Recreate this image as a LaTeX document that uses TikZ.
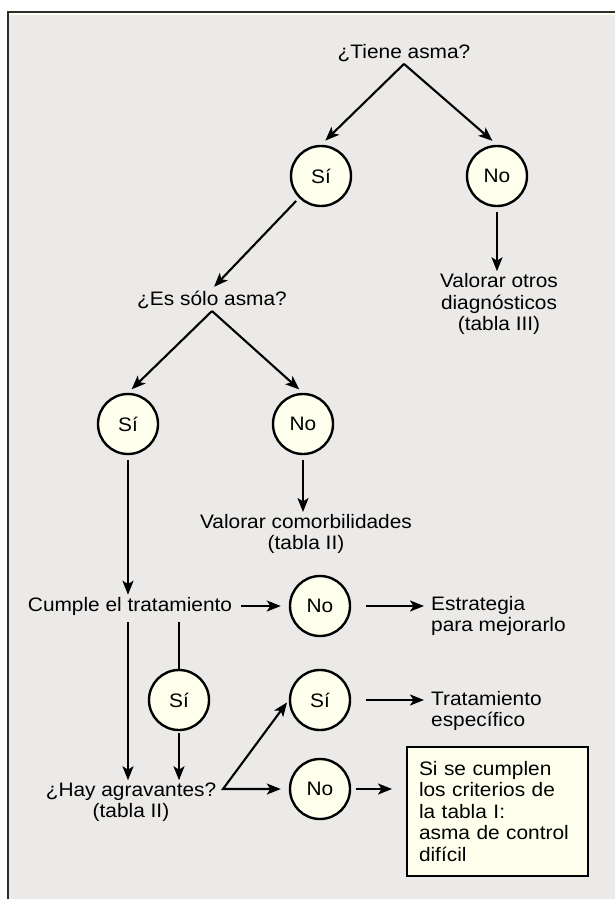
\documentclass[tikz,border=0pt]{standalone}
\usepackage{fontspec}
\setmainfont{Liberation Sans}[FakeStretch=1.07]
\usepackage{tikz}
\usetikzlibrary{arrows.meta}

\begin{document}
\begin{tikzpicture}[x=1pt, y=-1pt,
        every node/.style={font=\fontsize{19.5}{21.5}\selectfont, inner sep=2pt},
        rep/.style={circle, draw, line width=2.4pt, fill=colRep, minimum size=60pt, inner sep=0pt},
        fl/.style={line width=2.1pt, -{Stealth[length=14pt, width=11pt, inset=3.5pt]}},
        trait/.style={line width=2.1pt}]

        % Définition des couleurs
        \definecolor{colFond}{RGB}{235, 234, 232}
        \definecolor{colRep}{RGB}{255, 255, 238}
        \definecolor{colCadre}{RGB}{45, 45, 45}

        % Cadre
        \useasboundingbox (0,0) rectangle (615,899);
        \fill[colFond] (8,12) rectangle (615,899);
        \draw[colRep, line width=2pt] (9,14.5) -- (615,14.5);
        \draw[colCadre, line width=2.2pt] (8,899) -- (8,12) -- (615,12);

        % Questions et réponses
        \node (tiene) at (404,53) {¿Tiene asma?};
        \node[rep] (si1) at (321,176) {Sí};
        \node[rep] (no1) at (497,176) {No};
        \node[align=center] (otros) at (499,304) {Valorar otros\\diagnósticos\\(tabla III)};
        \node (solo) at (212,300) {¿Es sólo asma?};
        \node[rep] (si2) at (128,424) {Sí};
        \node[rep] (no2) at (303,424) {No};
        \node[align=center] (comor) at (306,534) {Valorar comorbilidades\\(tabla II)};
        \node (cumple) at (130,606) {Cumple el tratamiento};
        \node[rep] (no3) at (320,606) {No};
        \node[align=left, anchor=west] (estr) at (429,616) {Estrategia\\para mejorarlo};
        \node[rep] (si4) at (179,700) {Sí};
        \node[rep] (si5) at (320,700) {Sí};
        \node[align=left, anchor=west] (trat) at (429,711) {Tratamiento\\específico};
        \node[align=center] (agrav) at (131,802) {¿Hay agravantes?\\(tabla II)};
        \node[rep] (no5) at (320,789) {No};
        \node[draw, line width=2pt, fill=colRep, anchor=north west, minimum height=129pt,
              text width=157pt, inner xsep=12pt, align=left] (crit) at (406,746)
              {Si se cumplen\\los criterios de\\la tabla I:\\asma de control\\difícil};

        % Flèches
        \draw[fl, shorten >=6pt] (tiene.south) -- (si1.north);
        \draw[fl, shorten >=6pt] (tiene.south) -- (no1.north);
        \draw[fl, shorten <=5pt] (no1.south) -- (no1.south |- otros.north);
        \draw[fl, shorten <=4pt, shorten >=3pt] (si1.south west) -- (solo.north);
        \draw[fl, shorten >=5pt] (solo.south) -- (si2.north);
        \draw[fl, shorten >=5pt] (solo.south) -- (no2.north);
        \draw[fl, shorten <=5pt] (si2.south) -- (si2.south |- cumple.north);
        \draw[fl, shorten <=5pt] (no2.south) -- (no2.south |- comor.north);
        \draw[fl, shorten <=7pt, shorten >=8pt] (cumple.east) -- (no3.west);
        \draw[fl, shorten <=15pt, shorten >=5pt] (no3.east) -- (no3.east -| estr.west);

        % Vers les agravantes
        \draw[fl, shorten <=5pt] ([xshift=-2pt]cumple.south) -- ([xshift=-2pt]cumple.south |- agrav.north);
        \draw[trait, shorten <=5pt] (cumple.south -| si4.north) -- (si4.north);
        \draw[fl, shorten <=2pt] (si4.south) -- (si4.south |- agrav.north);
        \coordinate (fourche) at (223,789);
        \draw[line width=2.1pt, {Stealth[length=14pt, width=11pt, inset=3.5pt]}-{Stealth[length=14pt, width=11pt, inset=3.5pt]},
              shorten <=3pt, shorten >=8pt] (si5.west) -- (fourche) -- (no5.west);
        \draw[fl, shorten <=15pt, shorten >=5pt] (si5.east) -- (si5.east -| trat.west);
        \draw[fl, shorten <=5pt, shorten >=14pt] (no5.east) -- (no5.east -| crit.west);

    \end{tikzpicture}
\end{document}
